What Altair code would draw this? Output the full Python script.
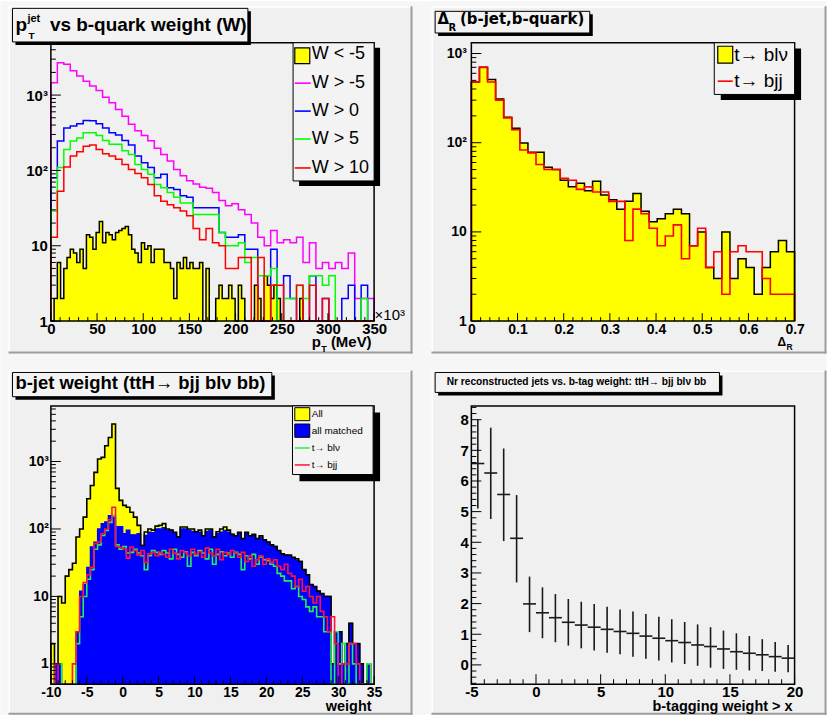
import altair as alt
import pandas as pd

FONT = "Liberation Sans"
WIDE = "DejaVu Sans"
PAD = "#f0f0f0"
W, H = 324, 279
O1, O2, O3, O4 = (50.5, 41.5), (472.0, 41.5), (50.5, 405.5), (472.0, 405.5)

# ---------------- panel 1 : pT of jets vs b-quark weight ----------------
PT_LINE_BIN = 7.0     # x 10^3 MeV
PT_FILL_BIN = 3.5
pt_w_lt_m5 = [0, 2, 6, 2, 5, 7, 9, 8, 6, 9,
              5, 14, 13, 9, 15, 21, 11, 15, 14, 12,
              15, 16, 17, 18, 14, 9, 8, 6, 11, 9,
              10, 6, 9, 9, 9, 6, 6, 5, 2, 6,
              5, 7, 5, 6, 5, 5, 6, 0, 5, 0,
              0, 2, 3, 2, 2, 3, 2, 0, 3, 2,
              0, 0, 0, 3, 2, 0, 4, 3, 2, 3,
              2, 0, 0, 0, 0, 0, 0, 2, 0, 0,
              0, 0, 0, 0, 0, 0, 0, 0, 0, 0,
              0, 0, 0, 0, 0, 0, 0, 0, 0, 0]
pt_w_gt_m5 = [1460, 2690, 2570, 2100, 1790, 1530, 1320, 1150, 935, 790,
              645, 525, 410, 335, 290, 248, 197, 163, 133, 103,
              85, 73, 66, 60, 58, 51, 40, 34, 36, 30,
              26, 20, 13, 10, 16, 11, 12, 11, 13, 6,
              11, 5, 6, 5, 6, 5, 8, 2, 2, 2]
pt_w_gt_0 = [80, 245, 365, 390, 415, 460, 455, 415, 365, 317,
             295, 250, 218, 155, 126, 109, 80, 89, 59, 56,
             46, 44, 32, 32, 32, 32, 15, 13, 13, 14,
             9, 9, 0, 0, 9, 0, 4, 2, 0, 0,
             4, 0, 2, 0, 0, 2, 3, 0, 3, 0]
pt_w_gt_5 = [29, 109, 190, 245, 270, 317, 317, 290, 250, 222,
             222, 183, 163, 120, 103, 89, 65, 59, 51, 44,
             37, 37, 26, 26, 26, 26, 15, 10, 10, 11,
             6, 7, 4, 4, 5, 0, 2, 2, 3, 2,
             4, 4, 3, 4, 0, 0, 0, 0, 2, 0]
pt_w_gt_10 = [13, 53, 111, 155, 177, 210, 218, 190, 167, 155,
              141, 120, 103, 91, 80, 65, 46, 39, 35, 32,
              29, 25, 17, 12, 17, 11, 10, 5, 5, 7,
              7, 0, 7, 0, 3, 3, 0, 0, 3, 0,
              3, 0, 2, 0, 0, 0, 0, 0, 0, 0]
pt_labels = [0, 50, 100, 150, 200, 250, 300, 350]

# ---------------- panel 2 : Delta R (b-jet, b-quark) ----------------
DR_BIN = 0.0175
dr_blnu = [480, 700, 510, 310, 193, 145, 99, 78, 78, 53,
           50, 38, 32, 35, 29, 37, 26, 23, 18, 22,
           27, 17, 13, 14, 16, 18, 16, 7, 10, 4,
           3, 10, 3, 5, 4, 2, 4, 6, 8, 6]
dr_bjj = [480, 700, 480, 300, 190, 140, 83, 77, 57, 50,
          50, 40, 38, 30, 32, 28, 28, 22, 22, 8,
          18, 16, 11, 7, 9, 12, 5, 7, 11, 4,
          6, 2, 6, 7, 6, 6, 3, 2, 2, 2]
dr_labels = [0, 0.1, 0.2, 0.3, 0.4, 0.5, 0.6, 0.7]

# ---------------- panel 3 : b-jet weight ----------------
WT_START, WT_BIN = -10.0, 0.5
wt_all = [2, 1, 10, 8, 20, 25, 31, 76, 100, 150, 280, 440, 690, 1090, 1150, 1710, 2270, 3600,
          400, 265, 224, 210, 177, 150, 113, 57, 90, 100, 96, 110,
          113, 120, 100, 96, 89, 76, 107, 107, 100, 100, 91, 96, 79, 100, 100,
          76, 91, 100, 107, 96, 83, 79, 89, 72, 89, 79, 83, 72, 79, 69,
          64, 58, 55, 48, 43, 41, 41, 38, 36, 33, 25, 21, 15, 14, 12,
          11, 10, 10, 1, 3, 3, 1, 2, 4, 2, 2, 1, 0, 1, 0]
wt_matched = [0, 1, 1, 0, 0, 0, 0, 3, 12, 15, 27, 54, 64, 100, 120, 127, 158, 150,
              108, 108, 85, 96, 82, 82, 85, 57, 80, 90, 88, 100,
              100, 105, 95, 96, 85, 76, 100, 100, 95, 92, 91, 90, 79, 92, 95,
              76, 85, 90, 95, 90, 83, 76, 85, 72, 85, 79, 80, 72, 75, 69,
              64, 56, 55, 46, 43, 41, 40, 37, 34, 33, 25, 21, 15, 14, 12,
              11, 10, 10, 1, 3, 3, 1, 2, 4, 2, 2, 1, 0, 1, 0]
wt_blnu = [0, 1, 1, 0, 0, 0, 0, 2, 5, 10, 18, 25, 50, 58, 80, 95, 125, 158,
           58, 50, 55, 44, 45, 50, 44, 40, 25, 40, 48, 45,
           42, 48, 44, 36, 50, 42, 38, 46, 28, 45, 40, 48, 44, 36, 50,
           30, 42, 46, 40, 44, 38, 45, 42, 25, 40, 36, 42, 30, 38, 35,
           34, 30, 28, 22, 20, 17, 17, 13, 14, 10, 9, 7, 6, 7, 5,
           5, 3, 3, 0, 3, 1, 2, 0, 2, 1, 0, 0, 0, 1, 0]
wt_bjj = [0, 1, 0, 0, 0, 0, 1, 3, 10, 16, 21, 27, 61, 64, 85, 100, 137, 210,
          55, 53, 51, 37, 54, 48, 41, 48, 32, 43, 45, 40,
          45, 42, 38, 50, 44, 36, 48, 45, 40, 50, 42, 46, 38, 52, 44,
          40, 50, 35, 45, 42, 48, 44, 38, 45, 33, 40, 28, 35, 40, 30,
          36, 32, 35, 28, 25, 30, 22, 20, 14, 18, 12, 14, 10, 8, 10,
          6, 5, 3, 5, 2, 0, 1, 1, 2, 2, 1, 0, 0, 0, 0]
wt_labels = [-10, -5, 0, 5, 10, 15, 20, 25, 30, 35]

# ---------------- panel 4 : Nr reconstructed jets vs b-tag weight cut ----------------
cut_x = [-4.5, -3.5, -2.5, -1.5, -0.5, 0.5, 1.5, 2.5, 3.5, 4.5, 5.5, 6.5, 7.5,
         8.5, 9.5, 10.5, 11.5, 12.5, 13.5, 14.5, 15.5, 16.5, 17.5, 18.5, 19.5]
nr_jets = [6.57, 6.26, 5.56, 4.13, 1.99, 1.70, 1.54, 1.39, 1.30, 1.23, 1.16, 1.09, 1.03,
           0.94, 0.87, 0.79, 0.73, 0.65, 0.60, 0.52, 0.43, 0.38, 0.33, 0.27, 0.22]
nr_hi = [8.00, 7.74, 7.06, 5.54, 2.88, 2.53, 2.31, 2.15, 2.06, 1.99, 1.90, 1.81, 1.74,
         1.66, 1.57, 1.49, 1.40, 1.32, 1.23, 1.12, 1.03, 0.94, 0.84, 0.75, 0.65]
nr_lo = [5.10, 4.76, 4.04, 2.69, 1.07, 0.87, 0.74, 0.63, 0.54, 0.47, 0.40, 0.35, 0.27,
         0.20, 0.14, 0.08, 0.03, -0.03, -0.09, -0.13, -0.16, -0.18, -0.20, -0.22, -0.24]
CUT_BIN = 1.0
nr_xlabels = [-5, 0, 5, 10, 15, 20]
nr_ylabels = [0, 1, 2, 3, 4, 5, 6, 7, 8]

LOG_EXPR = ("datum.value == 1 ? '1' : datum.value == 10 ? '10' : "
            "datum.value == 100 ? '10\u00b2' : datum.value == 1000 ? '10\u00b3' : ''")
NUM_EXPR = "'' + datum.value"

ONE = [{"k": 0}]


def rect(o, x1, y1, x2, y2, **style):
    return alt.Chart(alt.Data(values=ONE)).mark_rect(**style).encode(
        x=alt.value(x1 - o[0]), x2=alt.value(x2 - o[0]),
        y=alt.value(y1 - o[1]), y2=alt.value(y2 - o[1]))


def seg(o, x1, y1, x2, y2, color, sw):
    return alt.Chart(alt.Data(values=ONE)).mark_rule(color=color, strokeWidth=sw).encode(
        x=alt.value(x1 - o[0]), x2=alt.value(x2 - o[0]),
        y=alt.value(y1 - o[1]), y2=alt.value(y2 - o[1]))


def text(o, x, y, s, size, bold=True, align="left", baseline="alphabetic", font=FONT):
    return alt.Chart(alt.Data(values=ONE)).mark_text(
        text=s, font=font, fontSize=size, fontWeight="bold" if bold else "normal",
        align=align, baseline=baseline, color="#000").encode(
        x=alt.value(x - o[0]), y=alt.value(y - o[1]))


def pad(o, x1, y1, x2, y2):
    return [rect(o, x1, y1, x2, y2, fill=PAD),
            seg(o, x1, y1 + 0.75, x2, y1 + 0.75, "#ffffff", 1.5),
            seg(o, x1 + 0.75, y1, x1 + 0.75, y2, "#ffffff", 1.5),
            seg(o, x1, y2 - 1, x2, y2 - 1, "#9e9e9e", 2),
            seg(o, x2 - 1, y1, x2 - 1, y2, "#9e9e9e", 2)]


def shadow_box(o, x1, y1, x2, y2, dx, dy, fill="#f3f3f3"):
    return [rect(o, x1 + dx, y1 + dy, x2 + dx, y2 + dy, fill="#000"),
            rect(o, x1, y1, x2, y2, fill=fill, stroke="#000", strokeWidth=1)]


def frame():
    return alt.Chart(alt.Data(values=ONE)).mark_rect(
        fillOpacity=0, stroke="#000", strokeWidth=1.5).encode(
        x=alt.value(0), x2=alt.value(W), y=alt.value(0), y2=alt.value(H))


class Panel:
    def __init__(self, o, xdom, ydom, ylog, xvals, yvals, yexpr, lsize, xpad, ypad):
        self.o = o
        self.xs = alt.Scale(domain=xdom, nice=False, zero=False)
        if ylog:
            self.ys = alt.Scale(type="log", domain=ydom, nice=False)
        else:
            self.ys = alt.Scale(domain=ydom, nice=False, zero=False)
        common = dict(ticks=False, tickSize=0, domain=False, grid=False, labelFont=FONT,
                      labelFontSize=lsize, labelFontWeight="bold", labelColor="#000",
                      labelOverlap=False, labelFlush=False, labelBound=False, zindex=2)
        self.xa = alt.Axis(values=xvals, labelExpr=NUM_EXPR, labelPadding=xpad, **common)
        self.ya = alt.Axis(values=yvals, labelExpr=yexpr, labelPadding=ypad, **common)
        self.layers = []

    def X(self, f):
        return alt.X(f, type="quantitative", scale=self.xs, axis=self.xa, title=None)

    def Y(self, f):
        return alt.Y(f, type="quantitative", scale=self.ys, axis=self.ya, title=None)

    def add(self, *items):
        for it in items:
            if isinstance(it, list):
                self.layers.extend(it)
            else:
                self.layers.append(it)

    def hist(self, start, width, counts, floor, fill=None, stroke=None, sw=1.5):
        n = len(counts)
        c = [max(float(v), floor) for v in counts]
        if fill:
            bars = pd.DataFrame({"x0": [start + width * i for i in range(n)],
                                 "x1": [start + width * (i + 1) for i in range(n)],
                                 "v": c, "lo": [floor] * n})
            self.layers.append(alt.Chart(bars).mark_rect(
                color=fill, stroke=fill, strokeWidth=1.3).encode(
                x=self.X("x0"), x2=alt.X2("x1"), y=self.Y("v"), y2=alt.Y2("lo")))
        if stroke:
            xs = [start] + [start + width * i for i in range(n)] + [start + width * n] * 2
            ys = [floor] + c + [c[-1], floor]
            df = pd.DataFrame({"x": xs, "y": ys, "i": list(range(len(xs)))})
            self.layers.append(alt.Chart(df).mark_line(
                interpolate="step-after", color=stroke, strokeWidth=sw).encode(
                x=self.X("x"), y=self.Y("y"), order=alt.Order("i:Q")))

    def yticks(self, vals, length):
        df = pd.DataFrame({"t": vals})
        self.layers.append(alt.Chart(df).mark_rule(color="#000", strokeWidth=1).encode(
            y=self.Y("t"), x=alt.value(0), x2=alt.value(length)))

    def xticks(self, vals, length):
        df = pd.DataFrame({"t": vals})
        self.layers.append(alt.Chart(df).mark_rule(color="#000", strokeWidth=1).encode(
            x=self.X("t"), y=alt.value(H), y2=alt.value(H - length)))

    def chart(self):
        return alt.layer(*self.layers).properties(width=W, height=H)


def log_minor(lo_exp, hi_val):
    out = []
    for e in range(lo_exp, 5):
        for m in range(2, 10):
            v = m * 10 ** e
            if v < hi_val:
                out.append(v)
    return out


# ======== panel 1 ========
p1 = Panel(O1, [0, 350], [1, 4950], True, pt_labels, [1, 10, 100, 1000], LOG_EXPR, 15, 0.5, 3.5)
p1.add(rect(O1, 0, 0, 828, 715, fill="#f6f6f6"))
p1.add(pad(O1, 8, 5, 413, 353))
p1.add(shadow_box(O1, 12, 7, 248, 40.7, 3, 3))
p1.add(text(O1, 15, 29.5, "p", 19),
       text(O1, 27, 20.5, "jet", 11),
       text(O1, 28, 37.3, "T", 10),
       text(O1, 49.5, 29.5, "vs b-quark weight (W)", 19))
p1.hist(0, PT_FILL_BIN, pt_w_lt_m5, 1, fill="#ffff00", stroke="#000", sw=1.5)
p1.hist(0, PT_LINE_BIN, pt_w_gt_m5, 1, stroke="#ff00ff")
p1.hist(0, PT_LINE_BIN, pt_w_gt_0, 1, stroke="#0000ff")
p1.hist(0, PT_LINE_BIN, pt_w_gt_5, 1, stroke="#00ff00")
p1.hist(0, PT_LINE_BIN, pt_w_gt_10, 1, stroke="#ff0000")
p1.yticks([1, 10, 100, 1000], 10)
p1.yticks(log_minor(0, 4950), 5)
p1.xticks(pt_labels, 8)
p1.xticks([v for v in range(10, 350, 10) if v % 50], 4)
p1.add(frame())
p1.add(shadow_box(O1, 293.3, 41.5, 374.5, 180, 6, 5))
p1.add(rect(O1, 295, 46.7, 310, 62.5, fill="#ffff00", stroke="#000", strokeWidth=1.2))
for yy, col in [(82, "#ff00ff"), (110, "#0000ff"), (138, "#00ff00"), (167, "#ff0000")]:
    p1.add(seg(O1, 295, yy, 311, yy, col, 1.6))
for yy, s in [(53, "W < -5"), (82, "W > -5"), (110, "W > 0"), (138, "W > 5"), (167, "W > 10")]:
    p1.add(text(O1, 312, yy, s, 18, bold=False, baseline="middle"))
p1.add(text(O1, 375, 319, "\u00d710\u00b3", 15, bold=False),
       text(O1, 312, 346, "p", 15),
       text(O1, 321.5, 351.5, "T", 9),
       text(O1, 372, 346, "(MeV)", 15, align="right"))

# ======== panel 2 ========
p2 = Panel(O2, [0, 0.7], [1, 1320], True, dr_labels, [1, 10, 100, 1000], LOG_EXPR, 14, 1, 5)
p2.add(pad(O2, 432, 5, 828, 353))
p2.add(shadow_box(O2, 435.7, 10, 590.7, 31.7, 3, 3))
p2.add(text(O2, 438, 22.7, "\u0394", 15, font=WIDE),
       text(O2, 449, 29.3, "R", 10, font=WIDE),
       text(O2, 460.5, 22.7, "(b-jet,b-quark)", 15, font=WIDE))
p2.hist(0, DR_BIN, dr_blnu, 1, fill="#ffff00", stroke="#000", sw=1.5)
p2.hist(0, DR_BIN, dr_bjj, 1, stroke="#ff0000", sw=1.6)
p2.yticks([1, 10, 100, 1000], 10)
p2.yticks(log_minor(0, 1320), 5)
p2.xticks(dr_labels, 8)
p2.xticks([round(0.02 * k, 2) for k in range(1, 35) if k % 5], 4)
p2.add(frame())
p2.add(shadow_box(O2, 715.5, 41.5, 796, 93.3, 6.5, 5.7))
p2.add(rect(O2, 719, 45, 734, 62, fill="#ffff00", stroke="#000", strokeWidth=1.2))
p2.add(seg(O2, 719, 80, 734, 80, "#ff0000", 1.6))
p2.add(text(O2, 735.5, 54, "t\u2192 bl\u03bd", 19, bold=False, baseline="middle"),
       text(O2, 735.5, 80, "t\u2192 bjj", 19, bold=False, baseline="middle"))
p2.add(text(O2, 779, 345, "\u0394", 12),
       text(O2, 788, 349.5, "R", 8.5))

# ======== panel 3 ========
p3 = Panel(O3, [-10, 35], [0.5, 6670], True, wt_labels, [1, 10, 100, 1000], LOG_EXPR, 14, 1, 2.5)
p3.add(pad(O3, 8, 370, 413, 715))
p3.add(shadow_box(O3, 12, 372, 272, 396.3, 3, 3))
p3.add(text(O3, 15, 389, "b-jet weight (ttH\u2192 bjj bl\u03bd bb)", 18.5))
p3.hist(WT_START, WT_BIN, wt_all, 0.5, fill="#ffff00")
p3.hist(WT_START, WT_BIN, wt_matched, 0.5, fill="#0000ff")
p3.hist(WT_START, WT_BIN, wt_all, 0.5, stroke="#000", sw=1.6)
p3.hist(WT_START, WT_BIN, wt_blnu, 0.5, stroke="#22ee55", sw=1.6)
p3.hist(WT_START, WT_BIN, wt_bjj, 0.5, stroke="#ff1144", sw=1.6)
p3.yticks([1, 10, 100, 1000], 10)
p3.yticks([0.6, 0.7, 0.8, 0.9] + log_minor(0, 6670), 5)
p3.xticks(wt_labels, 8)
p3.xticks([v for v in range(-9, 35) if v % 5], 4)
p3.add(frame())
p3.add(shadow_box(O3, 292.7, 405.5, 373.5, 474.3, 7, 6.7))
p3.add(rect(O3, 295, 407.3, 310, 420.3, fill="#ffff00", stroke="#000", strokeWidth=1),
       rect(O3, 295, 423.7, 310, 437, fill="#0000ff", stroke="#000", strokeWidth=1),
       seg(O3, 295, 447.7, 310, 447.7, "#22ee55", 1.5),
       seg(O3, 295, 464.7, 310, 464.7, "#ff1144", 1.5))
for yy, s in [(413.7, "All"), (430.3, "all matched"), (447.7, "t\u2192 bl\u03bd"), (464.7, "t\u2192 bjj")]:
    p3.add(text(O3, 312, yy, s, 10, bold=False, baseline="middle"))
p3.add(text(O3, 372, 711.5, "weight", 14.5, align="right"))

# ======== panel 4 ========
p4 = Panel(O4, [-5, 20], [-0.63, 8.45], False, nr_xlabels, nr_ylabels, NUM_EXPR, 15, 0.5, 3)
p4.add(pad(O4, 432, 370, 828, 715))
p4.add(shadow_box(O4, 435.7, 372, 720.7, 392, 3, 3))
p4.add(text(O4, 447.3, 385,
            "Nr reconstructed jets vs. b-tag weight: ttH\u2192 bjj bl\u03bd bb", 10.2))
df4 = pd.DataFrame({"x": cut_x, "y": nr_jets, "lo": nr_lo, "hi": nr_hi,
                    "x0": [c - CUT_BIN / 2 for c in cut_x],
                    "x1": [c + CUT_BIN / 2 for c in cut_x]})
p4.add(alt.Chart(df4).mark_rule(color="#1a1a1a", strokeWidth=1.6).encode(
    x=p4.X("x"), y=p4.Y("lo"), y2=alt.Y2("hi")))
p4.add(alt.Chart(df4).mark_rule(color="#1a1a1a", strokeWidth=1.6).encode(
    x=p4.X("x0"), x2=alt.X2("x1"), y=p4.Y("y")))
p4.yticks(nr_ylabels, 10)
p4.yticks([round(-0.6 + 0.2 * k, 1) for k in range(0, 46) if abs(round(-0.6 + 0.2 * k, 1) % 1) > 1e-6], 5)
p4.xticks(nr_xlabels, 10)
p4.xticks([v for v in range(-4, 20) if v % 5], 5)
p4.add(frame())
p4.add(text(O4, 794, 711.5, "b-tagging weight > x", 14.5, align="right"))

chart = alt.concat(
    p1.chart(), p2.chart(), p3.chart(), p4.chart(),
    columns=2, spacing={"row": 85, "column": 97.5}, bounds="flush"
).properties(padding=0).configure_view(stroke="transparent", fill=PAD)

chart.save("out.html", embed_options={"renderer": "svg", "actions": False})
